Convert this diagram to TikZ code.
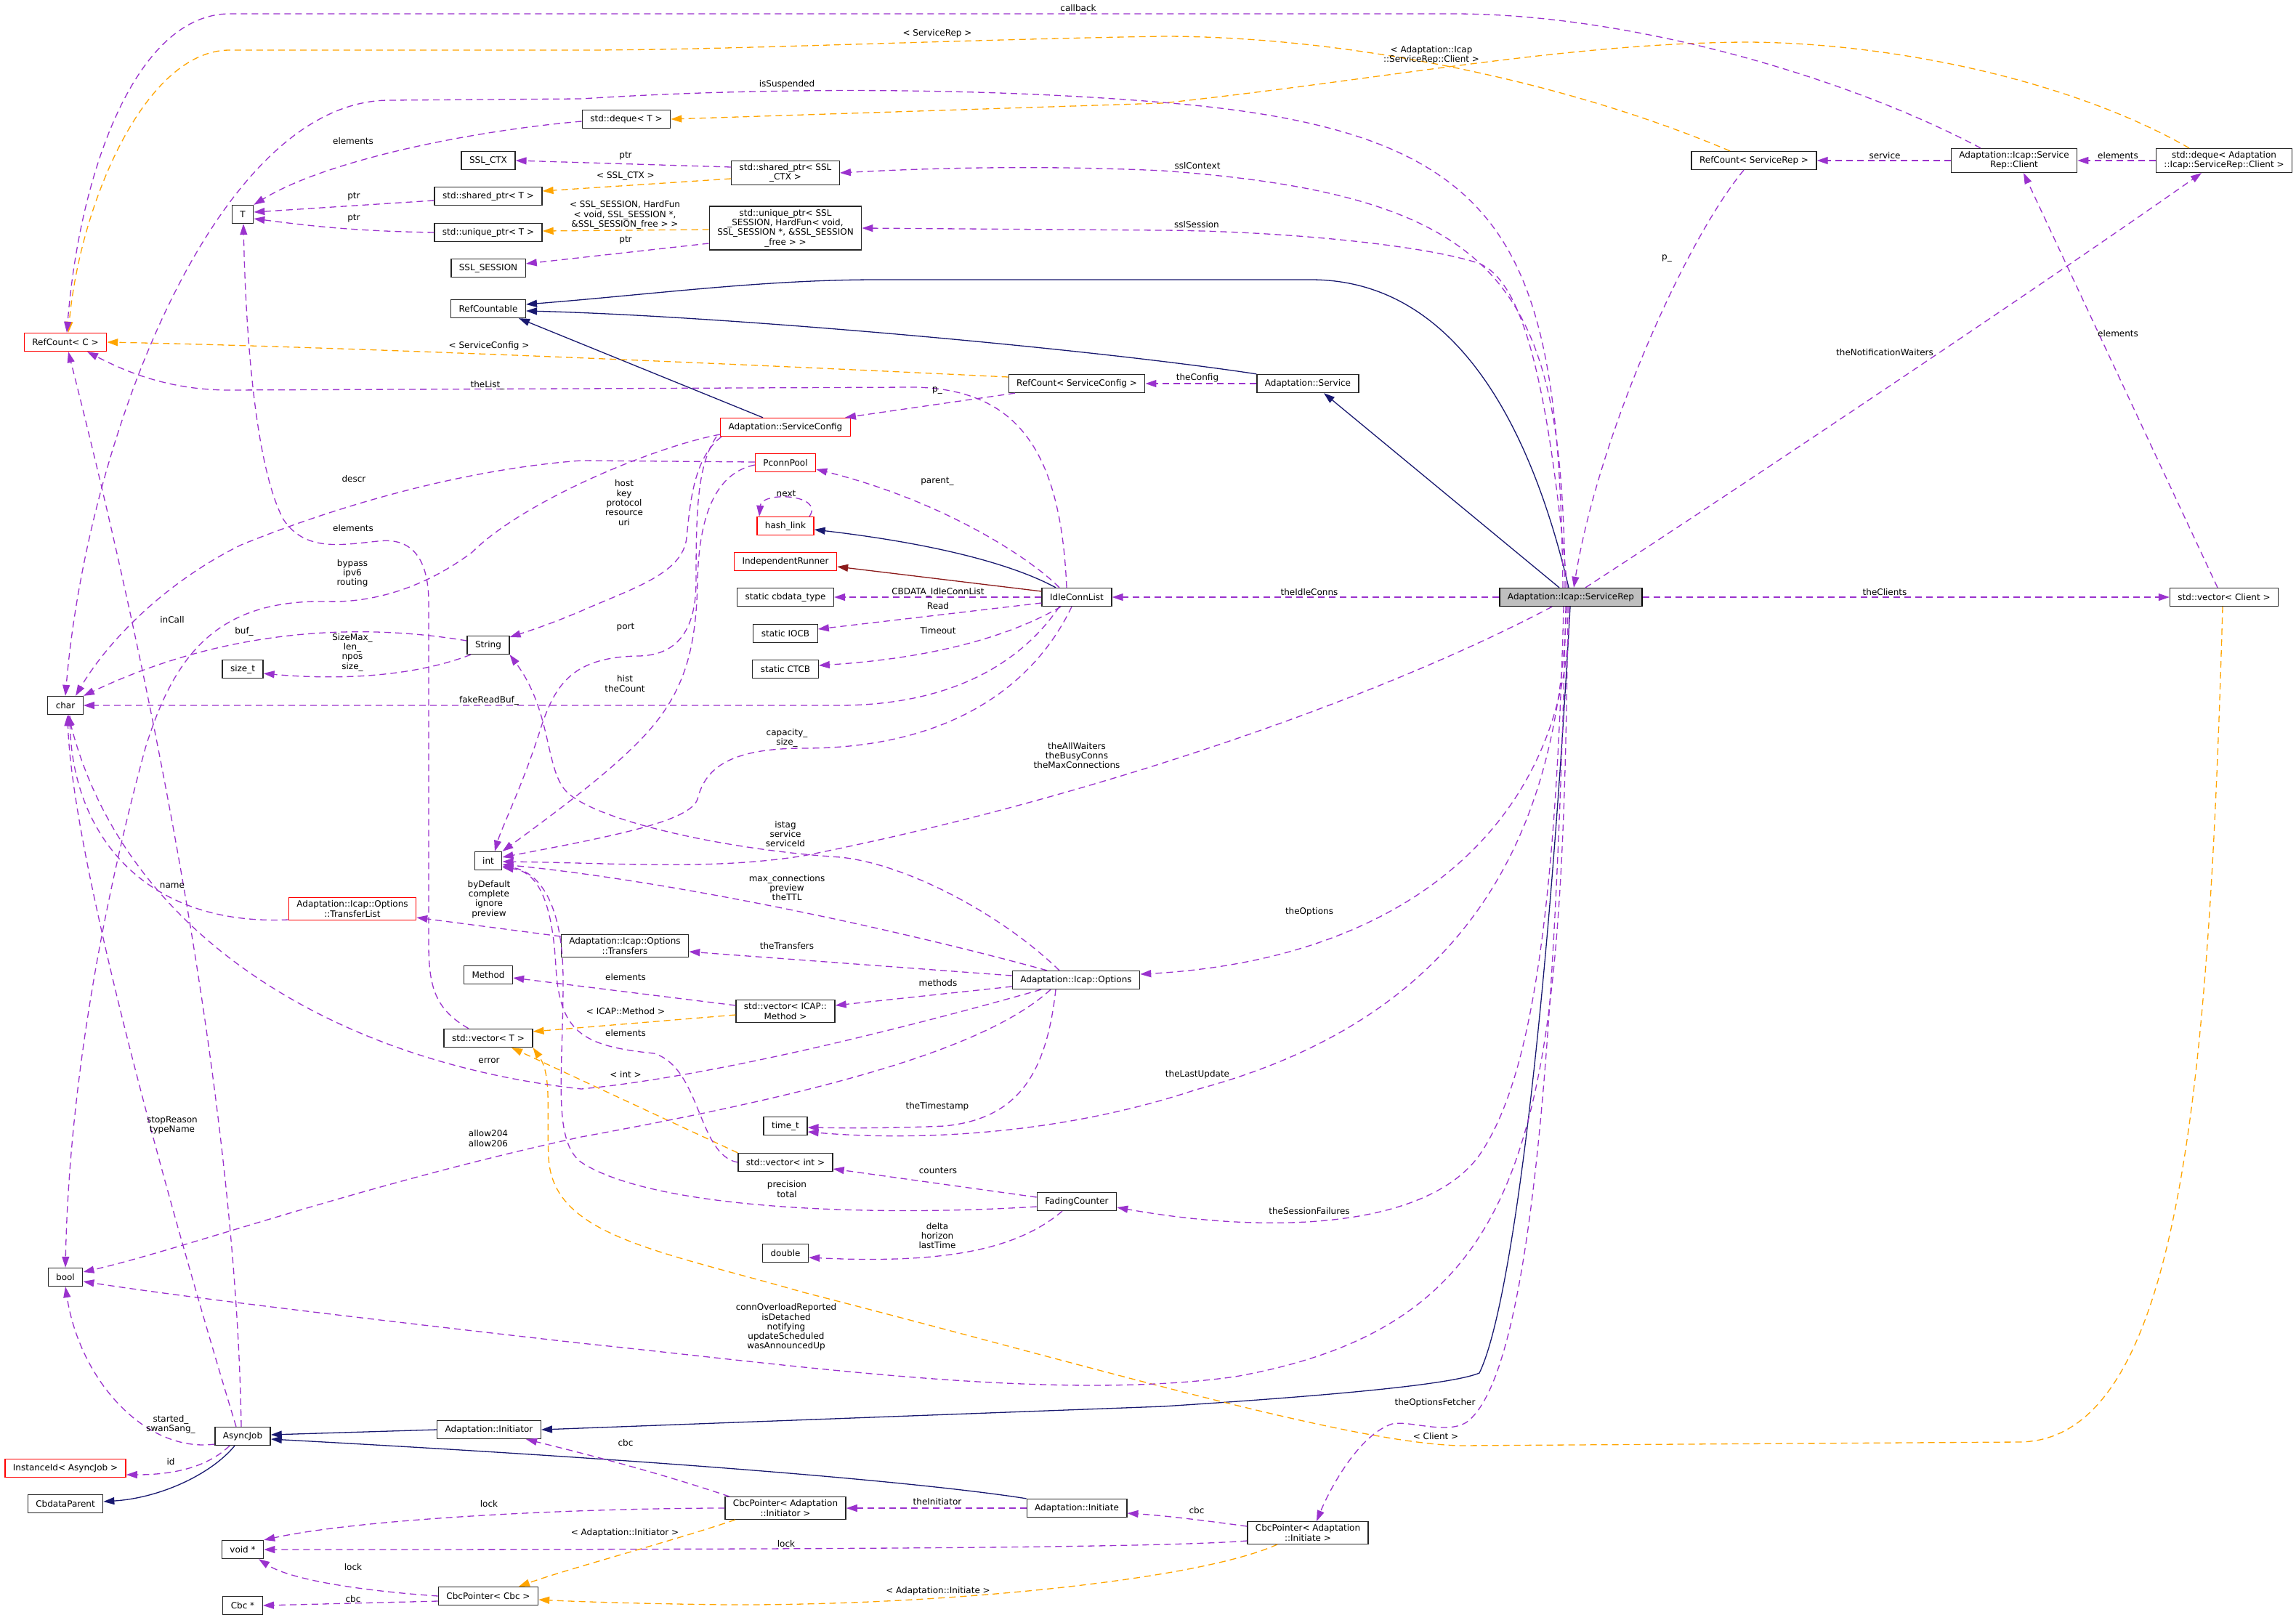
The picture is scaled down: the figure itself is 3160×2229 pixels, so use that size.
\documentclass[tikz,border=0pt]{standalone}
\usepackage{fontspec}
\setmainfont{DejaVu Sans}
\usepackage{tikz}
\usetikzlibrary{arrows.meta}
\definecolor{usageC}{HTML}{9A32CD}
\definecolor{tmplC}{HTML}{FFA500}
\definecolor{inhC}{HTML}{191970}
\definecolor{privC}{HTML}{8B1A1A}
\definecolor{mainFill}{HTML}{BFBFBF}
\tikzset{
  cls/.style={
    rectangle, draw=black!85, fill=white, line width=1.3pt,
    inner xsep=11pt, inner ysep=4pt, minimum height=25pt,
    align=center, font=\fontsize{12}{13.3}\selectfont
  },
  clsred/.style={cls, draw=red},
  clsmain/.style={cls, fill=mainFill, draw=black},
  usage/.style={-{Triangle[length=15pt,width=10pt]}, line width=1.3pt, color=usageC, dash pattern=on 9pt off 6pt},
  tmpl/.style={usage, color=tmplC},
  inh/.style={-{Triangle[length=15pt,width=10pt]}, line width=1.3pt, color=inhC},
  privinh/.style={inh, color=privC},
  lbl/.style={font=\fontsize{12}{13.3}\selectfont, align=center, inner sep=0pt}
}
\begin{document}
\begin{tikzpicture}[x=1pt, y=-1pt]
  \path[use as bounding box, fill=white] (0,0) rectangle (3160,2229);

  % classes, column by column
  \node[clsred] (refC) at (90,471) {RefCount< C >};
  \node[cls] (charT) at (90,971) {char};
  \node[cls] (boolT) at (90,1758) {bool};
  \node[clsred] (instanceId) at (90,2021) {InstanceId< AsyncJob >};
  \node[cls] (cbdataParent) at (90,2070) {CbdataParent};
  \node[cls] (tT) at (334,295) {T};
  \node[cls] (sizeT) at (334,921) {size\_t};
  \node[cls] (asyncJob) at (334,1977) {AsyncJob};
  \node[cls] (voidPtr) at (334,2133) {void *};
  \node[cls] (cbcPtr) at (334,2210) {Cbc *};
  \node[clsred] (transferList) at (485,1251) {Adaptation::Icap::Options\\::TransferList};
  \node[cls] (sslCtx) at (672,221) {SSL\_CTX};
  \node[cls] (sharedT) at (672,270) {std::shared\_ptr< T >};
  \node[cls] (uniqueT) at (672,320) {std::unique\_ptr< T >};
  \node[cls] (sslSession) at (672,369) {SSL\_SESSION};
  \node[cls] (refCountable) at (672,425) {RefCountable};
  \node[cls] (stringT) at (672,888) {String};
  \node[cls] (intT) at (672,1185) {int};
  \node[cls] (method) at (672,1342) {Method};
  \node[cls] (vecT) at (672,1429) {std::vector< T >};
  \node[cls] (initiator) at (673,1968) {Adaptation::Initiator};
  \node[cls] (cbcCbc) at (672,2197) {CbcPointer< Cbc >};
  \node[cls] (dequeT) at (862,164) {std::deque< T >};
  \node[cls] (transfers) at (860,1302) {Adaptation::Icap::Options\\::Transfers};
  \node[cls] (sharedCtx) at (1081,238) {std::shared\_ptr< SSL\\\_CTX >};
  \node[cls] (uniqueSess) at (1081,314) {std::unique\_ptr< SSL\\\_SESSION, HardFun< void,\\SSL\_SESSION *, \&SSL\_SESSION\\\_free > >};
  \node[clsred] (serviceCfg) at (1081,588) {Adaptation::ServiceConfig};
  \node[clsred] (pconnPool) at (1081,637) {PconnPool};
  \node[clsred] (hashLink) at (1081,724) {hash\_link};
  \node[clsred] (indepRunner) at (1081,773) {IndependentRunner};
  \node[cls] (cbdataType) at (1081,822) {static cbdata\_type};
  \node[cls] (iocb) at (1081,872) {static IOCB};
  \node[cls] (ctcb) at (1081,921) {static CTCB};
  \node[cls] (vecMethod) at (1081,1392) {std::vector< ICAP::\\Method >};
  \node[cls] (timeT) at (1081,1550) {time\_t};
  \node[cls] (vecInt) at (1081,1600) {std::vector< int >};
  \node[cls] (doubleT) at (1081,1725) {double};
  \node[cls] (cbcInitiator) at (1081,2076) {CbcPointer< Adaptation\\::Initiator >};
  \node[cls] (refSC) at (1482,528) {RefCount< ServiceConfig >};
  \node[cls] (idleConnList) at (1482,822) {IdleConnList};
  \node[cls] (options) at (1481,1349) {Adaptation::Icap::Options};
  \node[cls] (fading) at (1482,1654) {FadingCounter};
  \node[cls] (initiate) at (1482,2076) {Adaptation::Initiate};
  \node[cls] (service) at (1800,528) {Adaptation::Service};
  \node[cls] (cbcInitiate) at (1800,2110) {CbcPointer< Adaptation\\::Initiate >};
  \node[clsmain] (serviceRep) at (2162,822) {Adaptation::Icap::ServiceRep};
  \node[cls] (refSR) at (2414,221) {RefCount< ServiceRep >};
  \node[cls] (client) at (2772,221) {Adaptation::Icap::Service\\Rep::Client};
  \node[cls] (dequeClient) at (3061,221) {std::deque< Adaptation\\::Icap::ServiceRep::Client >};
  \node[cls] (vecClient) at (3061,822) {std::vector< Client >};

  % inheritance
  \draw[inh] ([xshift=-3pt]serviceRep.north) .. controls (2110,600) and (2010,385) .. (1804,385) -- (1208,385) .. controls (1050,385) and (900,405) .. ([yshift=6pt]refCountable.east);
  \draw[inh] (service.north west) .. controls (1500,480) and (1000,435) .. ([yshift=-3pt]refCountable.east);
  \draw[inh] ([xshift=-31pt]serviceCfg.north) -- ([xshift=42pt]refCountable.south);
  \draw[inh] ([xshift=-16pt]serviceRep.north) -- ([xshift=22pt]service.south);
  \draw[inh] ([xshift=-29pt]idleConnList.north) .. controls (1400,780) and (1300,750) .. ([yshift=-5pt]hashLink.east);
  \draw[privinh] ([yshift=8pt]idleConnList.west) -- ([yshift=-7pt]indepRunner.east);
  \draw[inh] ([xshift=-1pt]serviceRep.south) .. controls (2130,1400) and (2080,1800) .. (2036,1890) .. controls (2000,1905) and (1850,1920) .. (1600,1936) -- (initiator.east);
  \draw[inh] (initiate.north west) .. controls (1300,2045) and (1000,2015) .. ([yshift=-4pt]asyncJob.east);
  \draw[inh] (initiator.west) -- ([yshift=2pt]asyncJob.east);
  \draw[inh] ([xshift=-11pt]asyncJob.south) .. controls (290,2030) and (220,2062) .. ([yshift=3pt]cbdataParent.east);

  % template instances
  \draw[tmpl] ([xshift=-33pt]refSR.north) .. controls (2150,110) and (1850,50) .. (1600,50) .. controls (1300,55) and (1000,69) .. (800,69) -- (316,69) .. controls (200,69) and (110,280) .. ([xshift=4pt]refC.north);
  \draw[tmpl] ([xshift=-48pt]dequeClient.north) .. controls (2850,110) and (2600,58) .. (2400,58) .. controls (2150,60) and (1900,110) .. (1600,142) -- (dequeT.east);
  \draw[tmpl] ([yshift=9pt]refSC.west) .. controls (1100,505) and (500,478) .. (refC.east);
  \draw[tmpl] ([yshift=-8pt]sharedCtx.west) -- ([yshift=7pt]sharedT.east);
  \draw[tmpl] ([yshift=-2pt]uniqueSess.west) -- ([yshift=2pt]uniqueT.east);
  \draw[tmpl] ([yshift=-5pt]vecMethod.west) -- ([yshift=9pt]vecT.east);
  \draw[tmpl] (vecInt.north west) -- ([xshift=32pt]vecT.south);
  \draw[tmpl] ([xshift=-2pt]vecClient.south) .. controls (3040,1500) and (3000,1985) .. (2778,1985) -- (2008,1990) .. controls (1850,1985) and (1500,1880) .. (1106,1779) .. controls (900,1720) and (760,1700) .. (755,1593) .. controls (752,1530) and (760,1480) .. (vecT.south east);
  \draw[tmpl] ([xshift=-69pt]cbcInitiator.south) .. controls (930,2120) and (780,2160) .. ([xshift=42pt]cbcCbc.north);
  \draw[tmpl] ([xshift=-42pt]cbcInitiate.south) .. controls (1650,2175) and (1300,2210) .. (1004,2209) .. controls (900,2208) and (800,2205) .. ([yshift=-5pt]cbcCbc.east);

  % members of ServiceRep
  \draw[usage] ([xshift=-11pt]serviceRep.north) .. controls (2145,330) and (2080,180) .. (1600,141) .. controls (1350,120) and (1050,120) .. (800,136) -- (536,138) .. controls (300,138) and (120,600) .. (charT.north);
  \draw[usage] ([xshift=-8pt]serviceRep.north) .. controls (2150,400) and (2080,270) .. (1600,235) .. controls (1450,228) and (1300,230) .. (sharedCtx.east);
  \draw[usage] ([xshift=-5pt]serviceRep.north) .. controls (2130,520) and (2095,385) .. (2034,362) .. controls (1950,335) and (1750,318) .. (1600,317) -- (uniqueSess.east);
  \draw[usage] ([xshift=20pt]serviceRep.north) .. controls (2350,700) and (2800,400) .. ([xshift=-31pt]dequeClient.south);
  \draw[usage] ([xshift=-14pt]refSR.south) .. controls (2320,330) and (2200,600) .. ([xshift=4pt]serviceRep.north);
  \draw[usage] (serviceRep.west) -- (idleConnList.east);
  \draw[usage] (serviceRep.east) -- (vecClient.west);
  \draw[usage] ([xshift=-26pt]serviceRep.south) .. controls (1900,960) and (1500,1100) .. (1106,1178) .. controls (980,1198) and (850,1188) .. ([yshift=-1pt]intT.east);
  \draw[usage] ([xshift=-2pt]serviceRep.south) .. controls (2160,1120) and (1950,1320) .. ([yshift=8pt]options.east);
  \draw[usage] ([xshift=-6pt]serviceRep.south) .. controls (2145,1150) and (2020,1400) .. (1646,1500) .. controls (1450,1565) and (1250,1570) .. ([yshift=-8pt]timeT.east);
  \draw[usage] ([xshift=-10pt]serviceRep.south) .. controls (2140,1300) and (2100,1500) .. (2034,1593) .. controls (1960,1690) and (1750,1700) .. ([yshift=-8pt]fading.east);
  \draw[usage] ([xshift=-4pt]serviceRep.south) .. controls (2150,1550) and (2120,1820) .. (1700,1895) .. controls (1450,1930) and (1100,1880) .. (800,1849) .. controls (500,1815) and (250,1785) .. ([yshift=-6pt]boolT.east);
  \draw[usage] ([xshift=-7pt]serviceRep.south) .. controls (2140,1500) and (2100,1900) .. (2018,1958) .. controls (1990,1975) and (1940,1955) .. (1916,1960) .. controls (1870,1975) and (1830,2050) .. ([xshift=12pt]cbcInitiate.north);

  % other members
  \draw[usage] ([xshift=-46pt]client.north) .. controls (2550,110) and (2250,19) .. (2000,19) -- (316,19) .. controls (190,19) and (110,230) .. ([xshift=2pt]refC.north);
  \draw[usage] (client.west) -- (refSR.east);
  \draw[usage] (dequeClient.west) -- (client.east);
  \draw[usage] ([xshift=-9pt]vecClient.north) -- ([xshift=13pt]client.south);
  \draw[usage] (service.west) -- (refSC.east);
  \draw[usage] ([xshift=-85pt]refSC.south) -- ([xshift=-8pt]serviceCfg.north east);
  \draw[usage] ([xshift=-14pt]idleConnList.north) .. controls (1460,620) and (1400,536) .. (1259,533) -- (316,537) .. controls (230,537) and (170,510) .. ([xshift=30pt]refC.south);
  \draw[usage] ([xshift=-24pt]idleConnList.north) .. controls (1420,770) and (1300,690) .. ([yshift=-9pt]pconnPool.east);
  \draw[usage] ([xshift=33pt]hashLink.north) .. controls (1135,680) and (1048,676) .. ([xshift=-36pt]hashLink.north);
  \draw[usage] (idleConnList.west) -- (cbdataType.east);
  \draw[usage] ([yshift=-8pt]idleConnList.west) -- ([yshift=6pt]iocb.east);
  \draw[usage] ([xshift=-22pt]idleConnList.south) .. controls (1400,870) and (1300,905) .. ([yshift=5pt]ctcb.east);
  \draw[usage] ([xshift=-24pt]idleConnList.south) .. controls (1400,920) and (1300,970) .. (1157,971) -- (charT.east);
  \draw[usage] ([xshift=-7pt]idleConnList.south) .. controls (1420,950) and (1300,1030) .. (1106,1030) .. controls (1000,1030) and (970,1060) .. (960,1100) .. controls (950,1130) and (850,1150) .. ([yshift=5pt]intT.east);
  \draw[usage] ([yshift=-10pt]serviceCfg.west) .. controls (900,615) and (720,690) .. (650,760) .. controls (590,805) and (520,830) .. (450,828) .. controls (300,825) and (240,900) .. (200,1030) .. controls (140,1250) and (95,1500) .. (boolT.north);
  \draw[usage] ([xshift=-88pt]serviceCfg.south) .. controls (955,630) and (950,690) .. (945,740) .. controls (940,790) and (870,810) .. (800,841) .. controls (760,858) and (730,868) .. ([yshift=11pt]stringT.east);
  \draw[usage] ([xshift=-95pt]serviceCfg.south) .. controls (960,640) and (958,700) .. (958,800) .. controls (958,870) and (930,903) .. (877,903) .. controls (790,905) and (765,940) .. (745,1000) .. controls (720,1080) and (690,1140) .. ([xshift=9pt]intT.north);
  \draw[usage] ([yshift=1pt]pconnPool.west) -- (800,634) .. controls (650,645) and (480,690) .. (332,750) .. controls (230,800) and (150,880) .. ([xshift=14pt]charT.north);
  \draw[usage] ([yshift=-3pt]pconnPool.west) .. controls (990,650) and (962,700) .. (960,800) .. controls (958,900) and (940,960) .. (877,1023) .. controls (840,1060) and (790,1100) .. (intT.north east);
  \draw[usage] ([yshift=-3pt]dequeT.west) .. controls (650,180) and (450,220) .. (tT.north east);
  \draw[usage] ([yshift=-6pt]sharedT.west) -- ([yshift=3pt]tT.east);
  \draw[usage] (uniqueT.west) .. controls (480,318) and (420,310) .. ([yshift=-6pt]tT.east);
  \draw[usage] ([xshift=-27pt]vecT.north) .. controls (600,1390) and (590,1360) .. (590,1300) -- (590,830) .. controls (590,760) and (560,740) .. (520,745) .. controls (470,750) and (420,760) .. (390,715) .. controls (350,640) and (338,450) .. ([xshift=1pt]tT.south);
  \draw[usage] ([yshift=8pt]sharedCtx.west) -- (sslCtx.east);
  \draw[usage] ([yshift=-21pt]uniqueSess.west) -- ([yshift=6pt]sslSession.east);
  \draw[usage] ([yshift=6pt]stringT.west) .. controls (480,855) and (300,870) .. (charT.north east);
  \draw[usage] ([xshift=-24pt]stringT.south) .. controls (560,935) and (450,935) .. ([yshift=-6pt]sizeT.east);
  \draw[usage] ([xshift=-40pt]options.north) .. controls (1200,1270) and (900,1210) .. ([yshift=-5pt]intT.east);
  \draw[usage] ([xshift=-23pt]options.north) .. controls (1380,1260) and (1250,1190) .. (1157,1180) .. controls (1000,1170) and (820,1130) .. (780,1090) .. controls (750,1060) and (760,980) .. (stringT.south east);
  \draw[usage] ([yshift=6pt]options.west) -- ([yshift=-8pt]transfers.east);
  \draw[usage] ([yshift=-9pt]options.west) -- ([yshift=8pt]vecMethod.east);
  \draw[usage] ([xshift=-28pt]options.south) .. controls (1440,1480) and (1400,1540) .. (1300,1550) .. controls (1230,1553) and (1170,1553) .. ([yshift=-2pt]timeT.east);
  \draw[usage] ([xshift=-48pt]options.south) .. controls (1300,1400) and (1000,1480) .. (800,1499) .. controls (450,1460) and (170,1280) .. ([xshift=4pt]charT.south);
  \draw[usage] ([xshift=-35pt]options.south) .. controls (1350,1450) and (1100,1510) .. (800,1565) .. controls (500,1630) and (250,1720) .. ([yshift=7pt]boolT.east);
  \draw[usage] ([yshift=13pt]transfers.west) -- ([yshift=-12pt]transferList.east);
  \draw[usage] ([yshift=-15pt]transferList.west) .. controls (200,1275) and (100,1150) .. ([xshift=6pt]charT.south);
  \draw[usage] ([yshift=8pt]vecMethod.west) -- ([yshift=-4pt]method.east);
  \draw[usage] (vecInt.west) .. controls (960,1590) and (965,1470) .. (900,1450) .. controls (800,1440) and (770,1420) .. (765,1330) .. controls (760,1240) and (740,1200) .. ([yshift=-9pt]intT.east);
  \draw[usage] ([yshift=6pt]fading.west) -- ([yshift=-9pt]vecInt.east);
  \draw[usage] ([yshift=-7pt]fading.west) .. controls (1200,1675) and (900,1665) .. (800,1600) .. controls (760,1570) and (775,1480) .. (775,1350) .. controls (775,1240) and (740,1200) .. ([yshift=-7pt]intT.east);
  \draw[usage] ([xshift=-20pt]fading.south) .. controls (1400,1720) and (1300,1740) .. ([yshift=-6pt]doubleT.east);
  \draw[usage] ([xshift=-18pt]asyncJob.south) .. controls (290,2015) and (250,2030) .. ([yshift=-9pt]instanceId.east);
  \draw[usage] ([yshift=-11pt]asyncJob.west) .. controls (200,2000) and (110,1900) .. (boolT.south);
  \draw[usage] ([xshift=-2pt]asyncJob.north) .. controls (325,1500) and (200,900) .. ([xshift=4pt]refC.south);
  \draw[usage] ([xshift=-9pt]asyncJob.north) .. controls (260,1750) and (100,1200) .. ([xshift=3pt]charT.south);
  \draw[usage] (initiate.west) -- (cbcInitiator.east);
  \draw[usage] (cbcInitiator.west) .. controls (800,2076) and (500,2090) .. (voidPtr.north east);
  \draw[usage] ([yshift=-11pt]cbcInitiate.west) .. controls (1600,2130) and (1200,2133) .. (voidPtr.east);
  \draw[usage] ([yshift=9pt]cbcInitiate.west) .. controls (1650,2092) and (1600,2086) .. ([yshift=-7pt]initiate.east);
  \draw[usage] ([xshift=-77pt]cbcInitiator.north) .. controls (900,2025) and (800,2000) .. ([xshift=51pt]initiator.south);
  \draw[usage] (cbcCbc.west) .. controls (500,2190) and (400,2175) .. ([xshift=22pt]voidPtr.south);
  \draw[usage] ([yshift=-7pt]cbcCbc.west) -- (cbcPtr.east);

  % edge labels
  \node[lbl] (lCallback) at (1484,11) {callback};
  \node[lbl] (lSR) at (1290,46) {< ServiceRep >};
  \node[lbl] (lClientT) at (1970,76) {< Adaptation::Icap\\::ServiceRep::Client >};
  \node[lbl] (lSusp) at (1083,116) {isSuspended};
  \node[lbl] (lDequeElem) at (486,194) {elements};
  \node[lbl] (lCtxPtr) at (861,215) {ptr};
  \node[lbl] (lSslContext) at (1648,228) {sslContext};
  \node[lbl] (lCtxT) at (861,242) {< SSL\_CTX >};
  \node[lbl] (lSharedPtr) at (487,271) {ptr};
  \node[lbl] (lSessT) at (860,296) {< SSL\_SESSION, HardFun\\< void, SSL\_SESSION *,\\\&SSL\_SESSION\_free > >};
  \node[lbl] (lUniquePtr) at (487,301) {ptr};
  \node[lbl] (lSslSession) at (1647,309) {sslSession};
  \node[lbl] (lSessPtr) at (861,331) {ptr};
  \node[lbl] (lSRp) at (2294,356) {p\_};
  \node[lbl] (lService) at (2594,214) {service};
  \node[lbl] (lDequeClient) at (2915,214) {elements};
  \node[lbl] (lVecClient) at (2915,459) {elements};
  \node[lbl] (lWaiters) at (2594,485) {theNotificationWaiters};
  \node[lbl] (lSCT) at (673,476) {< ServiceConfig >};
  \node[lbl] (lConfig) at (1648,520) {theConfig};
  \node[lbl] (lList) at (671,530) {theList\_};
  \node[lbl] (lSCp) at (1290,538) {p\_};
  \node[lbl] (lDescr) at (487,659) {descr};
  \node[lbl] (lParent) at (1290,663) {parent\_};
  \node[lbl] (lNext) at (1082,679) {next};
  \node[lbl] (lHost) at (859,692) {host\\key\\protocol\\resource\\uri};
  \node[lbl] (lVecTElem) at (486,727) {elements};
  \node[lbl] (lBypass) at (485,789) {bypass\\ipv6\\routing};
  \node[lbl] (lCbdata) at (1291,815) {CBDATA\_IdleConnList};
  \node[lbl] (lIdle) at (1802,815) {theIdleConns};
  \node[lbl] (lClients) at (2594,815) {theClients};
  \node[lbl] (lRead) at (1291,834) {Read};
  \node[lbl] (lInCall) at (237,853) {inCall};
  \node[lbl] (lPort) at (861,864) {port};
  \node[lbl] (lTimeout) at (1291,868) {Timeout};
  \node[lbl] (lBuf) at (336,869) {buf\_};
  \node[lbl] (lSize) at (485,898) {SizeMax\_\\len\_\\npos\\size\_};
  \node[lbl] (lHist) at (860,941) {hist\\theCount};
  \node[lbl] (lFake) at (673,964) {fakeReadBuf\_};
  \node[lbl] (lCapacity) at (1083,1016) {capacity\_\\size\_};
  \node[lbl] (lAllWaiters) at (1482,1040) {theAllWaiters\\theBusyConns\\theMaxConnections};
  \node[lbl] (lIstag) at (1081,1148) {istag\\service\\serviceId};
  \node[lbl] (lName) at (237,1219) {name};
  \node[lbl] (lMaxConn) at (1083,1222) {max\_connections\\preview\\theTTL};
  \node[lbl] (lByDefault) at (673,1238) {byDefault\\complete\\ignore\\preview};
  \node[lbl] (lOptions) at (1802,1255) {theOptions};
  \node[lbl] (lTransfers) at (1083,1302) {theTransfers};
  \node[lbl] (lMethodElem) at (861,1345) {elements};
  \node[lbl] (lMethods) at (1291,1353) {methods};
  \node[lbl] (lMethodT) at (861,1392) {< ICAP::Method >};
  \node[lbl] (lIntElem) at (861,1422) {elements};
  \node[lbl] (lError) at (673,1460) {error};
  \node[lbl] (lIntT) at (861,1479) {< int >};
  \node[lbl] (lLastUpdate) at (1648,1479) {theLastUpdate};
  \node[lbl] (lTimestamp) at (1290,1523) {theTimestamp};
  \node[lbl] (lStop) at (237,1549) {stopReason\\typeName};
  \node[lbl] (lAllow) at (672,1567) {allow204\\allow206};
  \node[lbl] (lCounters) at (1291,1611) {counters};
  \node[lbl] (lPrecision) at (1083,1637) {precision\\total};
  \node[lbl] (lSession) at (1802,1667) {theSessionFailures};
  \node[lbl] (lDelta) at (1290,1701) {delta\\horizon\\lastTime};
  \node[lbl] (lOverload) at (1082,1827) {connOverloadReported\\isDetached\\notifying\\updateScheduled\\wasAnnouncedUp};
  \node[lbl] (lFetcher) at (1975,1931) {theOptionsFetcher};
  \node[lbl] (lStarted) at (235,1961) {started\_\\swanSang\_};
  \node[lbl] (lClientT2) at (1976,1977) {< Client >};
  \node[lbl] (lCbcInitiator) at (861,1986) {cbc};
  \node[lbl] (lId) at (235,2012) {id};
  \node[lbl] (lTheInitiator) at (1290,2067) {theInitiator};
  \node[lbl] (lLock1) at (673,2070) {lock};
  \node[lbl] (lCbcInitiate) at (1647,2079) {cbc};
  \node[lbl] (lInitiatorT) at (860,2110) {< Adaptation::Initiator >};
  \node[lbl] (lLock2) at (1082,2125) {lock};
  \node[lbl] (lLock3) at (486,2157) {lock};
  \node[lbl] (lInitiateT) at (1291,2190) {< Adaptation::Initiate >};
  \node[lbl] (lCbc) at (486,2201) {cbc};
\end{tikzpicture}
\end{document}
